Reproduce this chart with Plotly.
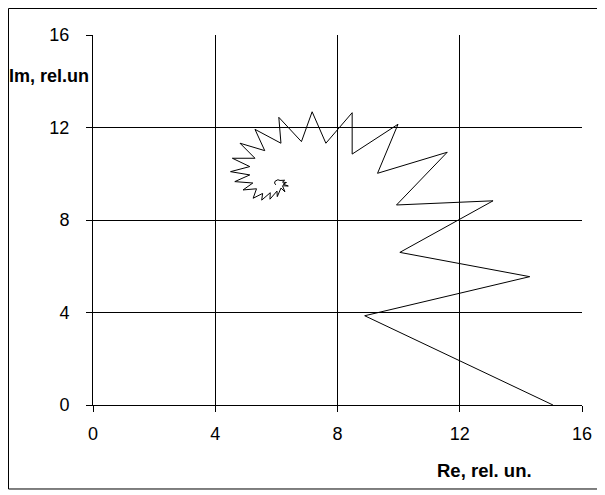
import plotly.graph_objects as go

# Hodograph points (Re, Im), from outer start to spiral centre
re_vals = [15.05, 8.89, 14.29, 10.04, 13.09, 9.93, 11.59, 9.31, 9.98, 8.48,
           8.48, 7.62, 7.17, 6.82, 6.08, 6.15, 5.30, 5.62, 4.81, 5.30,
           4.56, 5.13, 4.50, 5.13, 4.64, 5.23, 4.91, 5.35, 5.24, 5.55,
           5.52, 5.80, 5.79, 6.02, 6.03, 6.15, 6.28, 6.20, 6.39, 6.22,
           6.33, 6.20, 6.27, 6.12, 6.05, 5.96, 5.94, 5.98]
im_vals = [0.00, 3.86, 5.55, 6.60, 8.83, 8.65, 10.93, 10.02, 12.14, 10.85,
           12.64, 11.32, 12.68, 11.39, 12.44, 11.32, 11.92, 11.00, 11.32, 10.67,
           10.67, 10.31, 10.09, 9.95, 9.66, 9.60, 9.30, 9.35, 8.94, 9.15,
           8.86, 9.18, 8.90, 9.25, 9.01, 9.38, 9.22, 9.48, 9.47, 9.55,
           9.62, 9.64, 9.72, 9.71, 9.74, 9.68, 9.60, 9.52]

x_ticks = [0, 4, 8, 12, 16]
y_ticks = [0, 4, 8, 12, 16]
x_title = "Re, rel. un."
y_title = "Im, rel.un"

FONT = "Liberation Sans, Arial, sans-serif"

fig = go.Figure()
fig.add_trace(go.Scatter(x=re_vals, y=im_vals, mode="lines",
                         line=dict(color="black", width=1), showlegend=False,
                         hoverinfo="skip"))

axis_common = dict(showgrid=True, gridcolor="black", gridwidth=1,
                   showline=True, linecolor="black", linewidth=1,
                   ticks="outside", ticklen=6, tickcolor="black", tickwidth=1,
                   zeroline=False, tickfont=dict(family=FONT, size=18, color="black"))

fig.update_xaxes(range=[0, 16], tickvals=x_ticks, ticktext=[str(v) for v in x_ticks],
                 ticklabelstandoff=6, **axis_common)
fig.update_yaxes(range=[0, 16], tickvals=y_ticks, ticktext=[str(v) for v in y_ticks],
                 ticklabelstandoff=13, **axis_common)

fig.update_layout(
    width=597, height=487,
    margin=dict(l=85, r=23, t=27, b=90),
    paper_bgcolor="white", plot_bgcolor="white",
    font=dict(family=FONT, color="black"),
    annotations=[
        dict(text="<b>" + x_title + "</b>", xref="paper", yref="paper",
             x=0.80, y=-0.176, showarrow=False,
             font=dict(family=FONT, size=18.5, color="black"),
             xanchor="center", yanchor="middle"),
        dict(text="<b>" + y_title + "</b>", xref="paper", yref="paper",
             x=-0.089, y=0.889, showarrow=False,
             font=dict(family=FONT, size=18, color="black"),
             xanchor="center", yanchor="middle"),
    ],
    shapes=[dict(type="rect", xref="paper", yref="paper",
                 x0=-0.1728, x1=1.0409, y0=-0.227, y1=1.0716,
                 line=dict(color="black", width=1), fillcolor="rgba(0,0,0,0)",
                 layer="above")],
)

fig.write_html("out.html")
